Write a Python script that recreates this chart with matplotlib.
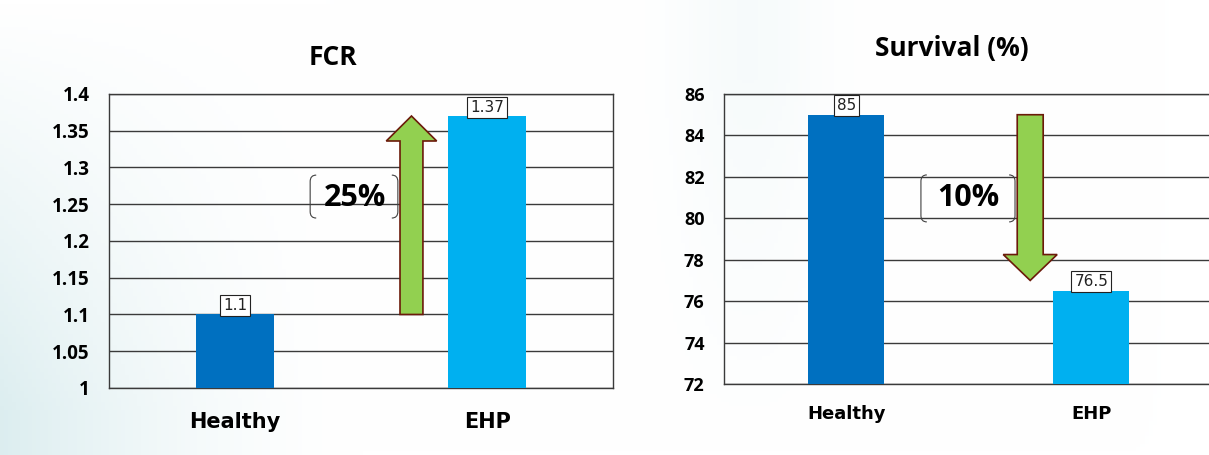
import numpy as np
import matplotlib.pyplot as plt
from matplotlib.patches import FancyArrow, PathPatch
from matplotlib.path import Path

# data
groups = ['Healthy', 'EHP']
fcr = [1.1, 1.37]
survival = [85, 76.5]
bar_colors = ['#0070C0', '#00B0F0']
fcr_ticks = [1, 1.05, 1.1, 1.15, 1.2, 1.25, 1.3, 1.35, 1.4]
surv_ticks = [72, 74, 76, 78, 80, 82, 84, 86]
fcr_change = '25%'
surv_change = '10%'
surv_arrow_end = 77  # arrow stops just above the EHP bar

fig = plt.figure(figsize=(12.09, 4.55), dpi=100)

# soft teal wash on the left, like the slide background
bg = fig.add_axes([0, 0, 1, 1], zorder=-10)
gx, gy = np.meshgrid(np.linspace(0, 1, 300), np.linspace(0, 1, 120))
w = np.clip(1 - gx / 0.3, 0, 1) ** 1.6 * np.clip(1.1 - gy * 1.1, 0, 1) * 0.85
w2 = np.exp(-((gx - 0.62) / 0.06) ** 2) * 0.2 * np.clip(gy * 1.2, 0, 1)
w = np.clip(w + w2, 0, 1)
tint = np.array([0.84, 0.92, 0.93])
img = 1 - (1 - tint)[None, None, :] * w[:, :, None]
bg.imshow(img, extent=[0, 1, 0, 1], aspect='auto', origin='lower')
bg.axis('off')

tick_font = dict(family='Open Sans', weight='bold')
cat_font = dict(family='DejaVu Sans', weight='bold')


def bracket(ax, x0, x1, y0, y1, rx=0.012, ry=0.022):
    # rounded corner brackets around the percentage, in axes fractions
    verts = [(x0 + rx, y1), (x0, y1), (x0, y1 - ry), (x0, y0 + ry), (x0, y0), (x0 + rx, y0),
             (x1 - rx, y1), (x1, y1), (x1, y1 - ry), (x1, y0 + ry), (x1, y0), (x1 - rx, y0)]
    codes = [Path.MOVETO, Path.CURVE3, Path.CURVE3, Path.LINETO, Path.CURVE3, Path.CURVE3] * 2
    ax.add_patch(PathPatch(Path(verts, codes), transform=ax.transAxes, fill=False,
                           edgecolor='#404040', lw=0.8, zorder=4))


def panel(ax, vals, ticks, tick_size, cat_size, cat_pad, fmt):
    x = np.arange(len(groups))
    ax.set_facecolor('none')
    ax.bar(x, vals, width=0.31, color=bar_colors, zorder=3)
    ax.set_xlim(-0.5, 1.5)
    ax.set_ylim(ticks[0], ticks[-1])
    ax.set_yticks(ticks)
    ax.set_yticklabels([f'{t:g}' for t in ticks], fontsize=tick_size, **tick_font)
    ax.set_xticks(x)
    ax.set_xticklabels(groups, fontsize=cat_size, **cat_font)
    ax.tick_params(axis='y', length=0, pad=14)
    ax.tick_params(axis='x', length=0, pad=cat_pad)
    ax.yaxis.grid(True, color='#3a3a3a', lw=1)
    ax.set_axisbelow(True)
    for s in ax.spines.values():
        s.set_color('#3a3a3a')
        s.set_linewidth(1)
    for xi, v in zip(x, vals):
        ax.annotate(fmt(v), (xi, v), xytext=(0, 1), textcoords='offset points',
                    ha='center', va='bottom', fontsize=11, family='DejaVu Sans',
                    color='#222222',
                    bbox=dict(boxstyle='square,pad=0.2', fc='white', ec='#222222', lw=0.8),
                    zorder=5)


# FCR panel
ax1 = fig.add_axes([0.0902, 0.1473, 0.4169, 0.6462])
panel(ax1, fcr, fcr_ticks, 13.5, 15, 17, lambda v: f'{v:g}')
ax1.add_patch(FancyArrow(0.70, fcr[0], 0, fcr[1] - fcr[0], width=0.091, head_width=0.2,
                         head_length=0.034, length_includes_head=True,
                         fc='#92D050', ec='#6B1A0A', lw=1.2, zorder=4))
ax1.text(0.476, 1.2585, fcr_change, ha='center', va='center', fontsize=22,
         zorder=5, **tick_font)
bracket(ax1, 0.399, 0.573, 0.578, 0.724)
fig.text(0.2755, 0.874, 'FCR', ha='center', va='center', fontsize=19, **tick_font)

# Survival panel (runs off the right edge in the source)
ax2 = fig.add_axes([0.5988, 0.156, 0.4053, 0.6374])
panel(ax2, survival, surv_ticks, 13, 13, 15, lambda v: f'{v:g}')
ax2.add_patch(FancyArrow(0.75, survival[0], 0, surv_arrow_end - survival[0], width=0.106,
                         head_width=0.22, head_length=1.25, length_includes_head=True,
                         fc='#92D050', ec='#6B1A0A', lw=1.2, zorder=4))
ax2.text(0.496, 80.98, surv_change, ha='center', va='center', fontsize=22,
         zorder=5, **tick_font)
bracket(ax2, 0.402, 0.594, 0.559, 0.721, rx=0.012, ry=0.022)
fig.text(0.787, 0.894, 'Survival (%)', ha='center', va='center', fontsize=19, **tick_font)

fig.savefig('out.png', dpi=100)
